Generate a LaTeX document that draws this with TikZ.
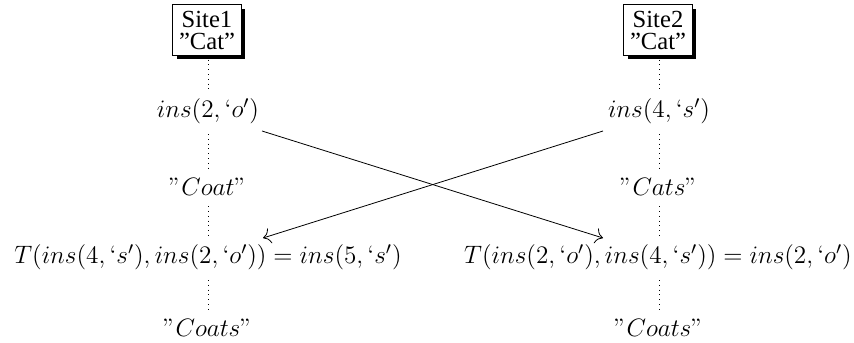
\RequirePackage{fix-cm}
\documentclass[tikz,border=0pt]{standalone}
\usepackage[no-math]{fontspec}
\setmainfont{Liberation Serif}
\usetikzlibrary{shadows,arrows.meta}
\begin{document}
\begin{tikzpicture}[x=0.5pt,y=-0.5pt,
  site/.style={draw,fill=white,align=center,inner xsep=3.2pt,inner ysep=3pt,font=\fontsize{12.3}{11}\selectfont,
    drop shadow={shadow xshift=2pt,shadow yshift=-2pt,fill=black,opacity=1}},
  lbl/.style={inner sep=3pt,font=\fontsize{12.6}{14}\selectfont},
  life/.style={dotted,line width=0.4pt},
  msg/.style={-{To[scale=1.5]},line width=0.4pt}]
\useasboundingbox (0,0) rectangle (854,342);
\node[site] (s1) at (207,30) {Site1\\''Cat''};
\node[site] (s2) at (658,30) {Site2\\''Cat''};
\node[lbl] (a1) at (208,111) {$ins(2,`o')$};
\node[lbl] (a2) at (659,111) {$ins(4,`s')$};
\node[lbl] (c1) at (208,187) {$"Coat"$};
\node[lbl] (c2) at (659,187) {$"Cats"$};
\node[lbl] (t1) at (208,257) {$T(ins(4,`s'),ins(2,`o'))=ins(5,`s')$};
\node[lbl] (t2) at (658,257) {$T(ins(2,`o'),ins(4,`s'))=ins(2,`o')$};
\node[lbl] (e1) at (208,328) {$"Coats"$};
\node[lbl] (e2) at (659,328) {$"Coats"$};
\coordinate (p1) at (262,131);
\coordinate (q1) at (603,238);
\coordinate (p2) at (603,131);
\coordinate (q2) at (263,238);
\foreach \u/\v in {s1/a1,a1/c1,c1/t1,t1/e1}{
  \draw[life] ([yshift=-2pt]\u.south -| a1.south) -- (\v.north -| a1.south);
}
\foreach \u/\v in {s2/a2,a2/c2,c2/t2,t2/e2}{
  \draw[life] ([yshift=-2pt]\u.south -| a2.south) -- (\v.north -| a2.south);
}
\draw[msg] (p1) -- (q1);
\draw[msg] (p2) -- (q2);
\end{tikzpicture}
\end{document}
